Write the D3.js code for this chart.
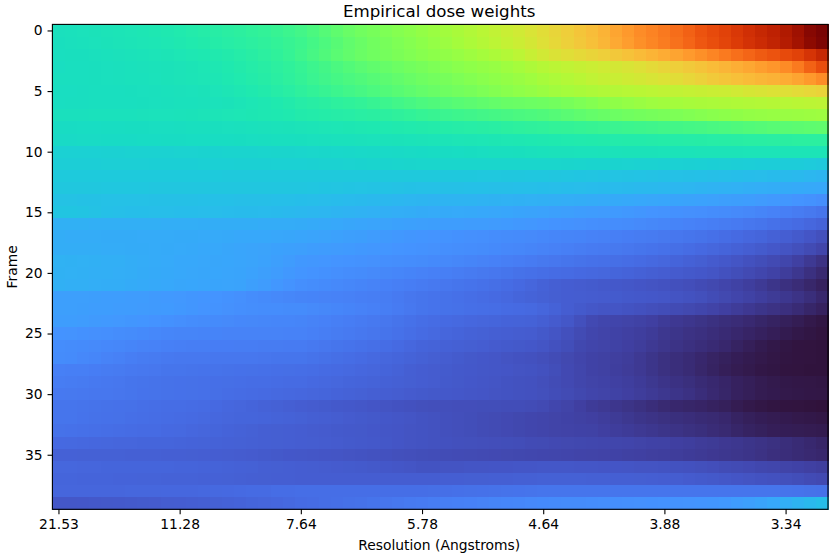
<!DOCTYPE html>
<html><head><meta charset="utf-8">
<script src="https://cdn.jsdelivr.net/npm/d3@7"></script>
<style>html,body{margin:0;padding:0;background:#fff}svg{display:block}text{font-family:"DejaVu Sans",sans-serif;fill:#000}</style>
</head><body><svg id="c" width="832" height="557"></svg>
<script>
const resolutionLabels=["21.53","11.28","7.64","5.78","4.64","3.88","3.34"];
const resolutionTicks=[0,10,20,30,40,50,60];
const frameTicks=[0,5,10,15,20,25,30,35];
const turboStops=["rgb(48,18,59)","rgb(57,42,115)","rgb(64,64,162)","rgb(68,86,199)","rgb(70,107,227)","rgb(71,128,246)","rgb(68,148,255)","rgb(55,168,250)","rgb(40,188,235)","rgb(28,205,216)","rgb(24,221,194)","rgb(31,233,175)","rgb(50,242,152)","rgb(78,249,125)","rgb(109,254,98)","rgb(139,255,75)","rgb(164,252,60)","rgb(185,246,53)","rgb(205,236,52)","rgb(223,223,55)","rgb(238,207,58)","rgb(248,190,57)","rgb(253,172,52)","rgb(254,150,43)","rgb(251,126,33)","rgb(244,102,23)","rgb(235,80,14)","rgb(223,63,8)","rgb(208,47,5)","rgb(190,33,2)","rgb(169,22,1)","rgb(146,11,1)","rgb(122,4,3)"];
const r0=[322,324,326,328,330,332,334,337,340,343,347,351,355,359,363,367,372,377,382,388,395,405,415,425,435,443,450,457,464,471,480,490,500,510,522,534,546,558,570,585,600,615,630,645,660,678,700,718,735,746,760,775,792,812,826,842,860,878,895,910,930,955,985,1000];
const r1=[320,322,324,326,328,330,332,334,336,339,343,347,350,354,358,362,366,371,376,382,388,397,407,417,427,435,443,450,457,464,472,482,492,502,514,526,538,550,562,576,594,610,625,640,655,672,694,712,730,742,756,770,786,806,820,836,854,872,888,904,925,950,978,995];
const r2=[318,320,320,322,324,325,327,329,331,333,336,339,342,346,350,355,360,366,372,380,390,400,410,420,428,436,442,448,454,460,466,472,478,486,494,504,514,524,538,556,572,588,598,608,618,628,640,652,664,676,690,702,716,730,744,758,772,786,800,812,826,842,868,895];
const r3=[316,318,318,320,321,322,324,325,327,328,330,333,336,340,345,350,355,360,366,372,380,388,396,404,412,420,426,432,438,444,450,456,462,468,474,480,486,494,504,516,528,536,544,552,560,568,576,584,594,606,618,628,638,650,662,674,686,698,710,722,736,758,790,820];
const r4=[318,318,319,320,321,322,323,324,326,328,330,332,334,337,342,347,352,357,363,370,378,385,392,398,404,410,416,422,428,434,440,445,450,456,462,468,474,480,488,496,506,515,524,534,544,552,558,566,574,582,590,600,612,624,636,646,656,664,672,680,690,702,718,735];
const r5=[316,316,317,318,318,319,320,321,322,324,325,326,328,331,335,340,345,350,356,362,370,376,382,388,394,400,406,412,418,424,430,435,440,445,450,456,462,468,475,482,490,498,504,510,516,522,526,530,534,538,542,546,550,554,558,562,570,578,584,590,596,604,612,620];
const r6=[316,317,317,318,318,319,319,320,321,322,323,324,325,326,328,332,336,340,345,350,356,360,364,368,372,377,382,388,394,400,406,410,414,418,422,426,430,434,436,438,440,444,450,456,462,470,476,482,488,494,498,502,506,510,513,516,519,522,525,528,530,533,536,540];
const r7=[322,322,322,323,323,324,324,325,326,326,327,328,330,332,334,336,338,340,342,345,350,352,354,356,358,361,364,367,371,375,380,383,386,389,392,395,398,401,404,407,410,415,420,425,430,434,438,442,446,449,452,456,460,464,468,472,476,480,483,486,488,490,492,494];
const r8=[312,312,313,313,314,314,315,315,316,316,317,318,319,320,321,322,324,325,327,328,330,332,334,336,338,340,342,344,346,348,350,352,354,356,358,360,362,365,368,371,373,376,378,380,382,384,386,388,390,392,394,396,398,400,403,406,409,412,415,418,420,422,424,426];
const r9=[308,308,309,309,310,310,310,311,311,312,312,313,313,314,314,315,316,317,318,319,320,321,322,323,324,325,326,327,328,329,330,331,332,334,335,336,338,339,340,342,343,345,347,348,349,350,351,352,352,353,354,355,356,357,358,359,360,361,362,363,364,365,365,365];
const r10=[290,290,290,290,291,291,292,292,293,293,294,294,295,295,296,296,297,298,299,299,300,301,302,303,304,305,306,307,308,309,310,311,312,313,315,316,318,319,320,322,323,325,325,326,326,327,327,328,328,328,329,329,329,330,330,330,330,331,331,331,332,332,332,332];
const r11=[285,285,285,285,286,286,286,286,287,287,287,287,288,288,288,289,289,289,290,290,290,291,292,293,294,295,296,297,298,299,300,300,300,300,300,300,300,300,300,300,300,300,299,298,297,296,295,294,293,292,291,290,289,288,287,286,285,284,283,282,281,280,278,275];
const r12=[276,276,276,276,276,276,276,276,276,276,276,276,276,276,275,275,275,275,275,275,275,275,275,275,275,275,275,275,275,275,275,275,274,274,274,273,273,272,272,271,271,270,269,268,267,266,265,264,263,262,261,260,259,258,257,256,255,253,252,250,248,246,243,240];
const r13=[272,272,272,272,271,271,271,271,270,270,270,270,270,270,270,270,270,270,270,270,270,269,268,267,266,265,264,263,262,261,260,260,259,259,258,258,257,257,256,256,255,254,253,252,251,250,249,248,247,246,245,243,241,239,237,235,233,231,229,227,225,223,221,220];
const r14=[262,262,261,261,260,260,260,260,259,259,259,259,258,258,258,257,257,257,256,256,255,254,252,251,249,248,246,245,243,241,240,239,239,238,238,237,236,235,234,233,232,230,229,227,226,224,223,221,220,218,216,214,212,210,208,206,204,202,199,196,193,189,185,180];
const r15=[268,268,266,262,258,256,255,255,254,254,253,253,252,252,251,250,250,249,248,247,245,243,241,239,237,235,233,231,229,227,225,224,223,222,221,220,218,216,214,212,210,207,205,203,201,199,197,195,192,189,186,184,182,180,178,175,172,169,165,160,155,151,146,140];
const r16=[232,232,232,231,231,231,230,230,230,229,229,229,228,228,228,227,227,226,226,226,225,223,221,219,217,215,213,211,209,207,205,204,203,202,201,200,199,197,195,193,190,187,185,183,181,179,177,175,172,169,166,163,160,157,154,151,148,144,140,135,130,126,120,114];
const r17=[227,226,226,226,225,225,225,224,224,224,223,223,222,222,221,220,220,219,218,217,215,213,211,208,206,204,201,198,195,192,190,188,186,184,182,180,178,176,174,172,170,167,165,163,160,158,156,153,151,149,146,143,140,137,133,128,124,120,116,111,106,100,93,86];
const r18=[228,228,227,227,226,226,225,225,224,223,222,221,220,219,217,215,213,211,209,207,205,203,201,199,197,195,193,191,189,187,185,183,181,179,177,175,173,170,168,165,162,158,155,152,150,148,146,144,141,138,135,131,127,123,119,115,111,106,101,96,91,85,78,70];
const r19=[235,234,233,232,231,230,228,226,224,222,220,219,218,217,216,215,213,210,206,200,195,193,191,189,187,185,183,181,179,177,175,173,171,168,165,162,159,156,153,150,146,143,140,137,135,133,131,128,125,122,119,115,111,107,102,97,92,87,82,77,71,63,53,43];
const r20=[234,233,232,231,230,229,227,225,223,221,219,218,217,216,215,214,210,206,200,195,190,187,184,181,178,175,172,169,166,163,160,157,155,152,149,146,143,140,136,133,130,127,125,123,121,119,117,114,111,108,105,102,99,96,92,87,82,77,72,66,58,50,40,30];
const r21=[232,231,230,229,228,227,225,223,221,219,217,216,215,214,213,212,206,200,193,186,180,177,174,171,168,165,162,159,156,153,150,147,144,141,138,135,131,127,123,118,112,108,105,103,101,99,97,95,93,91,89,86,83,79,75,70,65,60,54,47,40,34,27,20];
const r22=[206,206,205,204,203,202,201,200,198,196,194,192,190,188,185,182,178,174,171,168,165,163,161,160,158,156,154,152,148,144,140,138,136,133,130,127,124,121,117,113,110,107,105,104,103,102,101,99,97,96,94,91,88,85,80,75,70,65,60,55,50,44,37,28];
const r23=[206,205,204,203,202,201,200,199,198,197,195,192,189,186,183,180,179,178,177,176,175,172,169,166,163,160,157,154,150,145,140,138,136,134,132,130,128,126,124,122,118,112,105,100,95,92,92,90,87,84,81,78,75,71,67,62,57,52,47,43,39,33,26,20];
const r24=[203,202,200,198,196,194,192,190,187,184,181,178,176,174,172,170,169,168,167,166,165,162,159,156,153,150,147,143,139,135,130,127,124,122,120,118,116,114,113,112,108,102,95,86,76,72,70,68,65,62,56,52,49,45,41,37,34,30,26,22,18,14,9,5];
const r25=[187,186,184,182,180,178,176,173,170,167,165,164,163,163,162,162,162,161,161,160,160,157,154,151,148,145,142,139,135,130,125,122,118,115,112,110,108,106,104,103,98,92,86,78,72,69,66,63,60,56,50,47,43,40,36,32,28,24,20,16,12,8,5,2];
const r26=[177,176,174,172,170,168,165,162,160,157,155,154,154,153,153,152,152,151,151,150,150,147,144,141,138,135,132,128,124,120,115,113,111,109,107,105,102,100,98,96,92,87,82,74,70,68,65,62,58,53,48,44,40,36,32,28,22,17,12,8,5,3,2,1];
const r27=[176,174,170,166,162,158,154,151,149,147,145,145,145,144,144,143,143,142,141,140,140,137,134,131,128,125,122,119,116,113,110,107,104,101,98,96,94,91,89,87,84,80,75,70,66,64,61,58,53,47,41,37,33,28,23,19,15,12,9,6,4,3,2,1];
const r28=[157,156,155,153,151,149,147,145,143,141,140,139,138,137,136,135,134,133,132,131,130,128,126,124,122,120,118,115,112,108,105,103,101,99,97,95,94,93,91,90,87,82,76,71,66,64,60,57,53,47,41,37,33,27,22,17,13,10,7,5,3,2,1,1];
const r29=[152,151,149,147,145,143,141,139,137,136,135,134,133,132,131,130,129,128,127,126,125,123,121,119,117,115,113,111,109,107,105,103,100,98,96,94,92,90,88,87,84,80,76,71,68,66,63,60,56,51,46,42,38,33,29,25,20,17,13,10,8,7,6,5];
const r30=[147,146,145,144,143,142,140,138,137,136,135,134,133,131,129,127,125,124,122,121,120,118,116,114,112,110,108,106,104,102,100,98,97,96,94,93,91,90,88,87,85,81,78,74,70,68,65,62,58,54,50,46,42,36,30,26,20,17,13,11,9,8,7,6];
const r31=[141,140,139,137,136,135,134,132,130,129,128,127,125,123,120,118,115,112,110,108,105,103,101,99,97,95,93,91,89,87,85,84,84,83,83,82,82,81,81,80,77,72,68,62,56,53,49,45,41,36,31,28,26,24,21,18,13,9,6,4,3,2,1,0];
const r32=[141,140,138,136,135,134,132,130,128,127,125,124,122,120,118,117,116,115,113,112,110,108,106,104,102,100,98,96,94,92,90,88,86,84,82,80,78,76,74,72,70,68,66,64,62,59,55,51,47,44,41,38,36,33,31,28,22,18,15,13,11,9,8,6];
const r33=[136,135,133,132,130,129,127,126,125,123,122,120,118,116,114,112,110,108,107,106,105,103,102,100,99,98,96,94,93,91,90,88,86,84,82,80,78,76,74,72,70,68,67,66,65,62,59,56,53,50,47,44,41,38,34,31,26,22,19,16,15,14,13,12];
const r34=[123,122,121,120,119,118,118,117,116,116,115,114,113,112,111,110,109,108,107,106,105,104,103,102,100,99,97,95,93,91,90,88,87,86,85,84,83,82,81,79,78,76,75,74,73,72,71,70,68,66,65,62,60,57,55,52,50,47,44,41,37,33,29,25];
const r35=[111,111,110,110,110,110,109,109,109,108,108,107,106,105,104,103,102,100,98,96,95,94,93,92,91,90,88,87,85,84,82,81,80,79,78,77,76,75,74,73,72,71,70,69,68,67,66,64,63,61,60,58,56,54,52,50,48,46,43,39,36,33,30,28];
const r36=[119,119,118,118,117,117,117,116,116,116,115,115,114,113,112,111,110,108,107,106,105,104,103,102,101,100,98,96,94,92,90,90,91,91,92,92,93,93,94,94,95,95,95,94,94,93,93,92,91,91,90,88,87,85,83,80,78,76,73,71,68,66,63,60];
const r37=[116,116,115,115,115,114,114,113,113,112,112,112,111,111,110,109,108,107,106,106,105,105,105,105,105,105,105,105,105,105,105,105,106,106,107,107,108,108,109,109,110,110,110,110,109,109,108,108,107,106,105,104,102,100,98,95,93,91,89,87,85,82,79,76];
const r38=[118,118,118,118,118,118,119,119,119,120,120,120,121,122,123,124,125,126,128,129,130,130,130,130,130,130,130,130,130,130,130,131,132,133,134,135,136,137,138,139,140,140,140,140,140,140,140,140,140,140,140,140,140,140,140,140,140,140,140,140,139,138,136,135];
const r39=[95,95,96,97,98,99,100,101,102,104,105,106,108,110,112,114,116,118,120,122,125,127,130,132,134,136,139,142,145,148,150,152,155,157,159,161,164,166,168,171,173,174,175,176,178,179,180,182,183,184,185,187,189,190,192,195,200,205,212,220,230,238,246,255];
const weights=[r0,r1,r2,r3,r4,r5,r6,r7,r8,r9,r10,r11,r12,r13,r14,r15,r16,r17,r18,r19,r20,r21,r22,r23,r24,r25,r26,r27,r28,r29,r30,r31,r32,r33,r34,r35,r36,r37,r38,r39];

const L=52.4,R=828,T=24.4,B=509.3;
const svg=d3.select("#c");
const x=d3.scaleLinear().domain([-0.5,63.5]).range([L,R]);
const y=d3.scaleLinear().domain([-0.5,39.5]).range([T,B]);
const color=d3.scaleLinear().domain(turboStops.map((_,i)=>Math.min(1000,i*8/255*1000))).range(turboStops).interpolate(d3.interpolateRgb).clamp(true);
const cells=weights.flatMap((row,r)=>row.map((v,c)=>({r,c,v})));
svg.append("g").attr("shape-rendering","crispEdges").selectAll("rect").data(cells).join("rect")
 .attr("x",d=>x(d.c-0.5)).attr("y",d=>y(d.r-0.5))
 .attr("width",d=>x(d.c+0.5)-x(d.c-0.5)+0.6).attr("height",d=>y(d.r+0.5)-y(d.r-0.5)+0.6)
 .attr("fill",d=>color(d.v));
const xAxis=d3.axisBottom(x).tickValues(resolutionTicks).tickFormat((d,i)=>resolutionLabels[i]).tickSize(4.86).tickPadding(4.86);
const yAxis=d3.axisLeft(y).tickValues(frameTicks).tickSize(4.86).tickPadding(4.86);
const gx=svg.append("g").attr("transform",`translate(0,${B})`).call(xAxis);
const gy=svg.append("g").attr("transform",`translate(${L},0)`).call(yAxis);
[gx,gy].forEach(g=>{g.select(".domain").remove();g.selectAll("text").attr("font-size",13.89).attr("font-family","DejaVu Sans").attr("fill","#000");g.selectAll("line").attr("stroke","#000").attr("stroke-width",1.1);});
svg.append("rect").attr("x",L).attr("y",T).attr("width",R-L).attr("height",B-T).attr("fill","none").attr("stroke","#000").attr("stroke-width",1.1);
svg.append("text").attr("x",(L+R)/2-1).attr("y",17).attr("text-anchor","middle").attr("font-size",16.67).text("Empirical dose weights");
svg.append("text").attr("x",(L+R)/2-1).attr("y",550).attr("text-anchor","middle").attr("font-size",13.89).text("Resolution (Angstroms)");
svg.append("text").attr("transform",`translate(16.5,${(T+B)/2}) rotate(-90)`).attr("text-anchor","middle").attr("font-size",13.89).text("Frame");
</script></body></html>
